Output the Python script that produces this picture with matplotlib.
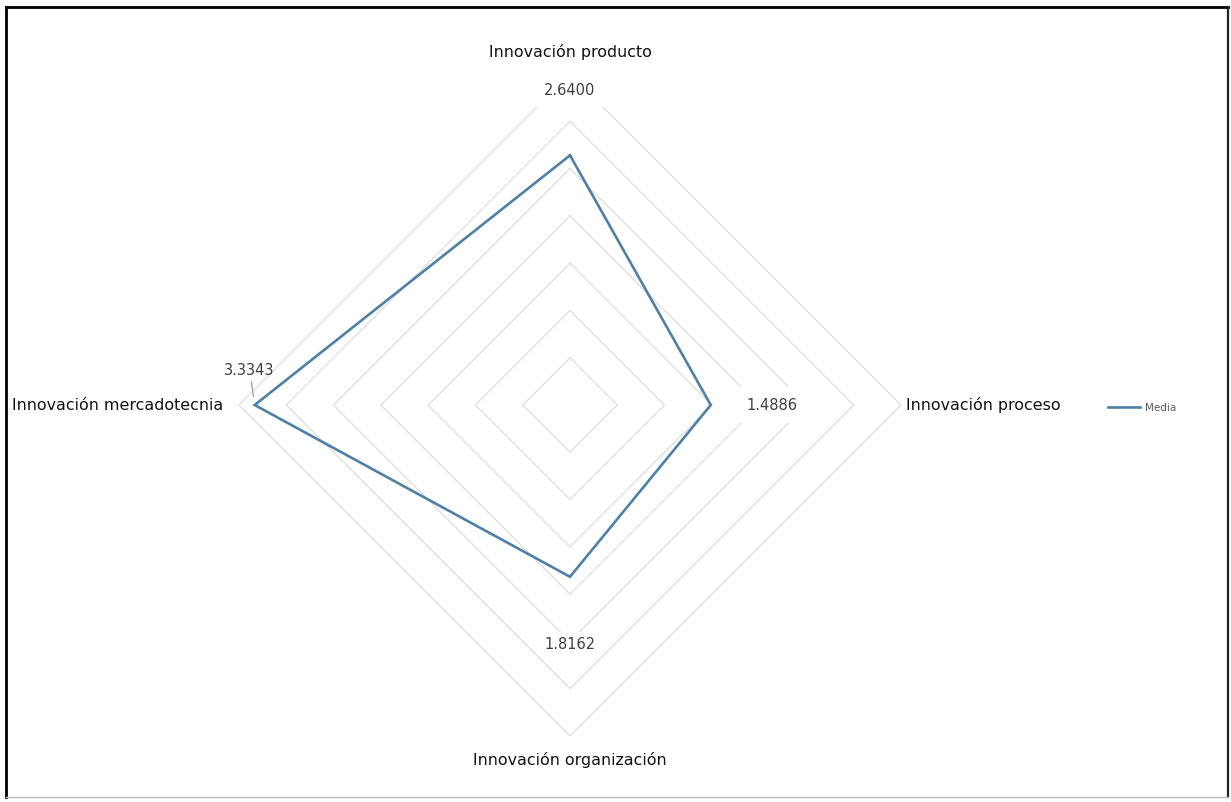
import numpy as np
import matplotlib
matplotlib.use("Agg")
import matplotlib.pyplot as plt
from matplotlib.lines import Line2D

# Data
categories = ["Innovación producto", "Innovación proceso",
              "Innovación organización", "Innovación mercadotecnia"]
media = [2.6400, 1.4886, 1.8162, 3.3343]
ring_levels = [0.5, 1.0, 1.5, 2.0, 2.5, 3.0, 3.5]
series_name = "Media"

W, H = 1231, 802
fig = plt.figure(figsize=(W / 100, H / 100), dpi=100)
fig.patch.set_facecolor("white")

# Plot area: centre (570, 405) px, outer ring radius 331 px
cx, cy, R = 570, 405, 331
ax = fig.add_axes([(cx - R) / W, (H - cy - R) / H, 2 * R / W, 2 * R / H],
                  projection="polar")
ax.set_theta_offset(np.pi / 2)
ax.set_theta_direction(-1)
ax.set_ylim(0, ring_levels[-1])
ax.grid(False)
ax.set_xticks([])
ax.set_yticks([])
ax.spines["polar"].set_visible(False)
ax.patch.set_alpha(0)

n = len(categories)
theta = np.linspace(0, 2 * np.pi, n, endpoint=False)
theta_closed = np.append(theta, theta[0])

# Polygonal grid rings
for lvl in ring_levels:
    ax.plot(theta_closed, [lvl] * (n + 1), color="#DEDEDE", lw=0.9, zorder=1)

# Series
vals_closed = media + media[:1]
ax.plot(theta_closed, vals_closed, color="#4F80A6", lw=1.9, zorder=3,
        solid_joinstyle="miter")

# Category labels
cat_font = dict(family="DejaVu Sans", size=11.4, color="#111111")
ax.text(theta[0], 3.73, categories[0], ha="center", va="center", **cat_font)
ax.text(theta[1], 3.55, categories[1], ha="left", va="center", **cat_font)
ax.text(theta[2], 3.75, categories[2], ha="center", va="center", **cat_font)
ax.text(theta[3], 3.67, categories[3], ha="right", va="center", **cat_font)

# Value labels
val_font = dict(family="DejaVu Sans", size=10.5, color="#404040")
ax.text(theta[0], 3.33, f"{media[0]:.4f}", ha="center", va="center",
        bbox=dict(boxstyle="square,pad=0.65", fc="white", ec="none"),
        zorder=4, **val_font)
ax.text(theta[1], 2.14, f"{media[1]:.4f}", ha="center", va="center",
        bbox=dict(boxstyle="square,pad=0.7", fc="white", ec="none"),
        zorder=4, **val_font)
ax.text(theta[2], 2.53, f"{media[2]:.4f}", ha="center", va="center",
        bbox=dict(boxstyle="square,pad=0.35", fc="white", ec="none"),
        zorder=4, **val_font)
ax.annotate(f"{media[3]:.4f}", xy=(theta[3], media[3]),
            xytext=(-5, 35), textcoords="offset pixels",
            ha="center", va="center", zorder=4,
            arrowprops=dict(arrowstyle="-", color="#A0A0A0", lw=0.9,
                            shrinkA=1, shrinkB=6),
            **val_font)

# Legend
handle = Line2D([], [], color="#4F80A6", lw=1.9)
fig.legend([handle], [series_name], loc="center left",
           bbox_to_anchor=(1108 / W, 1 - 408 / H), frameon=False,
           prop=dict(family="DejaVu Sans", size=7.5), labelcolor="#595959",
           handlelength=3.1, handletextpad=0.45, borderpad=0, borderaxespad=0)

# Outer frame
def px_line(x0, y0, x1, y1, color, lw):
    fig.add_artist(Line2D([x0 / W, x1 / W], [1 - y0 / H, 1 - y1 / H],
                          transform=fig.transFigure, color=color, lw=lw,
                          solid_capstyle="projecting"))

px_line(6, 7, 1228, 7, "black", 2.0)
px_line(6, 7, 6, 797, "black", 2.0)
px_line(1228, 7, 1228, 797, "#222222", 1.6)
px_line(6, 797, 1228, 797, "#BBBBBB", 1.0)

fig.savefig("out.png", dpi=100, facecolor="white")
